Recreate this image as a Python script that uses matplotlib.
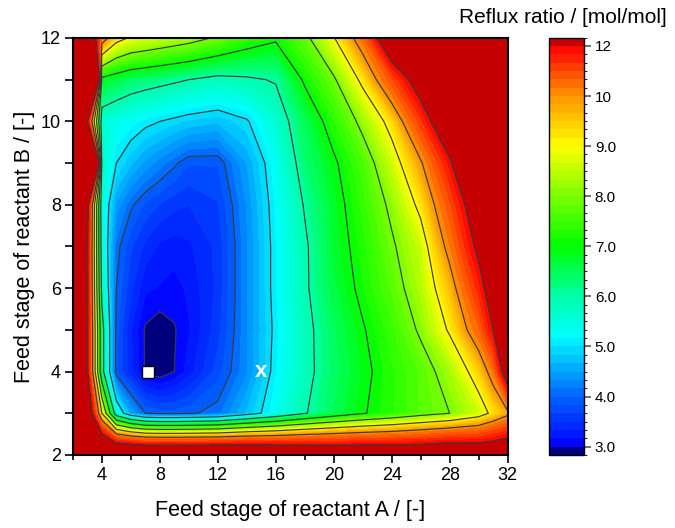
import numpy as np
import matplotlib
matplotlib.use("Agg")
import matplotlib.pyplot as plt
from matplotlib.colors import ListedColormap, BoundaryNorm, LinearSegmentedColormap
from matplotlib.ticker import FixedLocator

plt.rcParams['font.family'] = ['Liberation Sans', 'DejaVu Sans']

# ---------------- data ----------------
stage_a = [2, 3, 4, 5, 6, 7, 8, 9, 10, 12, 14, 16, 18, 20, 22, 24, 26, 28, 30, 31, 32]
stage_b = [2, 3, 4, 5, 6, 7, 8, 9, 10, 11, 12]

# reflux ratio rows, one per feed stage of reactant B (values above 12 are off-scale)
r_b2 = [16, 16, 15, 14.6, 14.6, 14.5, 14.5, 14.5, 14.5, 14.5, 14.4, 14.1, 13.9, 13.7, 13.6, 13.5, 13.5, 13.7, 13.4, 13.4, 13.5]
r_b3 = [16, 13.5, 9.0, 5.5, 4.5, 4.0, 3.9, 3.9, 3.95, 4.1, 4.7, 5.3, 5.95, 6.5, 6.95, 7.3, 7.7, 8.0, 8.6, 9.2, 9.8]
r_b4 = [16, 12.1, 6.3, 3.85, 3.4, 2.97, 2.85, 3.0, 3.25, 3.75, 4.3, 5.15, 5.8, 6.4, 6.85, 7.3, 7.7, 8.3, 9.4, 10.4, 13.0]
r_b5 = [16, 12.1, 6.3, 3.9, 3.35, 2.97, 2.88, 2.98, 3.15, 3.6, 4.3, 5.1, 5.8, 6.45, 6.95, 7.45, 8.1, 9.1, 10.6, 12.0, 14.0]
r_b6 = [16, 12.1, 5.8, 4.0, 3.55, 3.2, 3.15, 3.1, 3.2, 3.55, 4.3, 5.15, 5.9, 6.6, 7.15, 7.7, 8.4, 9.6, 11.5, 12.8, 15]
r_b7 = [16, 12.1, 5.6, 4.1, 3.7, 3.45, 3.3, 3.25, 3.3, 3.55, 4.3, 5.15, 5.9, 6.7, 7.25, 7.9, 8.6, 10.3, 12.3, 13.5, 15]
r_b8 = [16, 12.4, 5.5, 4.45, 4.05, 3.8, 3.65, 3.55, 3.5, 3.65, 4.35, 5.2, 6.05, 6.75, 7.4, 8.15, 9.2, 10.9, 13.0, 14.0, 15]
r_b9 = [16, 40, 5.8, 5.0, 4.7, 4.45, 4.25, 4.05, 3.85, 3.85, 4.5, 5.3, 6.3, 6.9, 7.6, 8.6, 9.9, 11.8, 15, 15, 15]
r_b10 = [16, 12.0, 5.6, 5.4, 5.25, 5.1, 5.0, 4.9, 4.8, 4.7, 4.95, 5.6, 6.5, 7.3, 8.2, 9.3, 11.2, 13.5, 15, 15, 15]
r_b11 = [40, 40, 6.8, 6.6, 6.4, 6.3, 6.2, 6.1, 6.0, 5.8, 5.9, 6.05, 7.1, 7.9, 9.2, 10.9, 12.8, 14.0, 15, 15, 15]
r_b12 = [16, 14.0, 10.5, 9.3, 8.9, 8.75, 8.6, 8.45, 8.3, 7.9, 7.4, 7.1, 7.8, 8.95, 10.5, 13.5, 15, 15, 15, 15, 15]

line_levels = [3, 4, 5, 6, 7, 8, 9, 10, 12]
cbar_ticks = [3, 4, 5, 6, 7, 8, 9, 10, 12]
cbar_labels = ['3.0', '4.0', '5.0', '6.0', '7.0', '8.0', '9.0', '10', '12']

opt_point = (7.2, 4)
base_point = (15, 4)

# ---------------- figure ----------------
Z = np.array([r_b2, r_b3, r_b4, r_b5, r_b6, r_b7, r_b8, r_b9, r_b10, r_b11, r_b12])
X, Y = np.meshgrid(stage_a, stage_b)

# fill levels: 6 sub-levels per major interval
fill_levels = []
for lo, hi in zip(line_levels[:-1], line_levels[1:]):
    fill_levels.extend(list(np.linspace(lo, hi, 7)[:-1]))
fill_levels.append(line_levels[-1])
n_bands = len(fill_levels) - 1
bounds = [0.0] + fill_levels + [100.0]

anchor_vals = [3.0, 4.0, 5.2, 6.0, 7.0, 8.0, 9.0, 10.0, 12.0]
anchor_cols = ['#0000FF', '#0064FF', '#00FFFF', '#00FFAA', '#00FF00',
               '#78FF00', '#FFFF00', '#FF9600', '#FF0000']
def vpos(v):
    return np.interp(v, fill_levels, np.arange(len(fill_levels))) / n_bands
base = LinearSegmentedColormap.from_list('orig', [(vpos(v), c) for v, c in zip(anchor_vals, anchor_cols)])
band_cols = [base((i + 0.5) / n_bands) for i in range(n_bands)]
cols = ['#00007F'] + band_cols + ['#C40000']
cmap = ListedColormap(cols)
norm = BoundaryNorm(bounds, cmap.N)

fig = plt.figure(figsize=(6.75, 5.28), dpi=100)
ax = fig.add_axes([0.108, 0.1383, 0.644, 0.7898])
cax = fig.add_axes([0.8133, 0.1383, 0.0514, 0.7904])

cf = ax.contourf(X, Y, Z, levels=bounds, cmap=cmap, norm=norm)
ax.contour(X, Y, Z, levels=line_levels, colors='#3a3a3a', linewidths=0.85)

ax.plot([opt_point[0]], [opt_point[1]], marker='s', ms=8, mfc='white', mec='black', mew=1.0, zorder=5)
ax.text(base_point[0], base_point[1], 'x', color='white', fontsize=16, fontweight='bold',
        ha='center', va='center', zorder=5)

ax.set_xlim(2, 32)
ax.set_ylim(2, 12)
ax.xaxis.set_major_locator(FixedLocator([4, 8, 12, 16, 20, 24, 28, 32]))
ax.xaxis.set_minor_locator(FixedLocator([2, 6, 10, 14, 18, 22, 26, 30]))
ax.yaxis.set_major_locator(FixedLocator([2, 4, 6, 8, 10, 12]))
ax.yaxis.set_minor_locator(FixedLocator([3, 5, 7, 9, 11]))
ax.tick_params(axis='both', which='major', direction='out', length=5.5, width=1.2, labelsize=13, pad=3)
ax.tick_params(axis='both', which='minor', direction='out', length=3.5, width=1.2)
ax.tick_params(axis='y', which='minor', length=5.5)
for s in ax.spines.values():
    s.set_linewidth(1.5)

fig.text(0.43, 0.034, 'Feed stage of reactant A / [-]', fontsize=15.5, ha='center', va='center')
fig.text(0.036, 0.532, 'Feed stage of reactant B / [-]', fontsize=15.5, ha='center', va='center', rotation=90)

cb = fig.colorbar(cf, cax=cax, spacing='uniform', ticks=cbar_ticks)
cb.set_ticklabels(cbar_labels)
cb.outline.set_linewidth(1.0)
cax.tick_params(direction='out', length=5, width=1.2, labelsize=11, color='#555555', pad=3)
fig.text(0.834, 0.966, 'Reflux ratio / [mol/mol]', fontsize=15, ha='center', va='center')

fig.savefig('out.png', dpi=100)
